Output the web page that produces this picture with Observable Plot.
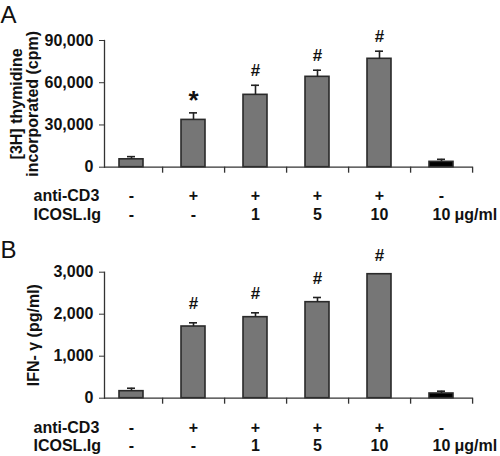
<!DOCTYPE html>
<html><head><meta charset="utf-8">
<script src="https://cdn.jsdelivr.net/npm/d3@7"></script>
<script src="https://cdn.jsdelivr.net/npm/@observablehq/plot@0.6"></script>
<style>
body{margin:0;background:#fff;}
#fig{width:500px;height:456px;}
#fig svg{display:block;}
</style></head><body><div id="fig"></div>
<script>
const categories = ["c1","c2","c3","c4","c5","c6"];
const antiCD3 = ["-","+","+","+","+","-"];
const icosl = ["-","-","1","5","10","10"];
const thymidine = [5600, 33600, 51400, 64200, 77000, 3800];
const thymidineErr = [1900, 5000, 6800, 4700, 5400, 1800];
const thymidineSig = ["", "*", "#", "#", "#", ""];
const thymidineTicks = [0, 30000, 60000, 90000];
const ifng = [167, 1707, 1929, 2286, 2952, 112];
const ifngErr = [70, 88, 104, 112, 0, 55];
const ifngSig = ["", "#", "#", "#", "#", ""];
const ifngTicks = [0, 1000, 2000, 3000];

const FONT = "'Liberation Sans', Arial, Helvetica, sans-serif";
const X_RANGE = [99.4, 472.6];
const STEP = (X_RANGE[1] - X_RANGE[0]) / categories.length;

function panel(o) {
  const data = categories.map((c, i) => ({
    c, v: o.values[i], e: o.errs[i], s: o.sigs[i], a: antiCD3[i], g: icosl[i],
    top: o.values[i] + o.errs[i], fill: i === categories.length - 1 ? "#000000" : "#767676"
  }));
  const withErr = data.filter(d => d.e > 0);
  const bottomTxt = {frameAnchor: "bottom", lineAnchor: "middle", fontSize: 16, fontWeight: "bold"};
  return Plot.plot({
    width: 500, height: 228,
    marginLeft: 104, marginRight: 500 - X_RANGE[1], marginTop: o.marginTop, marginBottom: o.marginBottom,
    style: {fontFamily: FONT, fontSize: "16px", color: "#111", background: "white", overflow: "visible"},
    x: {type: "band", domain: categories, range: X_RANGE, paddingInner: 0.608, paddingOuter: 0.304, axis: null},
    y: {domain: [0, o.max], axis: null},
    color: {type: "identity"},
    marks: [
      Plot.barY(data, {x: "c", y: "v", fill: "fill", stroke: "#2a2a2a", strokeWidth: 1.6}),
      Plot.ruleX(withErr, {x: "c", y1: "v", y2: "top", stroke: "#222", strokeWidth: 1.6}),
      Plot.tickY(withErr, {x: "c", y: "top", stroke: "#222", strokeWidth: 1.6, insetLeft: 8, insetRight: 8}),
      Plot.text(data.filter(d => d.s === "#"), {x: "c", y: "top", text: "s", dy: o.sigDy, fontSize: 17, fontWeight: "bold", lineAnchor: "middle"}),
      Plot.text(data.filter(d => d.s === "*"), {x: "c", y: "top", text: "s", dy: o.sigDy + 3, fontSize: 26, fontWeight: "bold", lineAnchor: "middle"}),
      Plot.ruleY([0], {stroke: "#333", strokeWidth: 1.3}),
      Plot.frame({anchor: "left", stroke: "#333", strokeWidth: 1.3}),
      Plot.ruleX(data, {x: "c", y1: 0, y2: 0, insetBottom: -6, dx: STEP / 2, stroke: "#333", strokeWidth: 1.3}),
      Plot.axisY({ticks: o.ticks, tickFormat: d3.format(","), tickSize: 5, tickPadding: 6, label: null, fontSize: 16, fontWeight: "bold", stroke: "#333"}),
      Plot.text([o.ylabel], {frameAnchor: "left", rotate: -90, textAnchor: "middle", dx: o.labelDx, lineHeight: 1.0, fontSize: 16, fontWeight: "bold", lineAnchor: "middle"}),
      Plot.text([o.letter], {frameAnchor: "top-left", dx: -104, dy: o.letterDy, textAnchor: "start", lineAnchor: "middle", fontSize: 24, fontWeight: "normal"}),
      Plot.text(data, {...bottomTxt, x: "c", text: "a", dy: o.row1}),
      Plot.text(data, {...bottomTxt, x: "c", text: "g", dy: o.row2}),
      Plot.text(["anti-CD3"], {...bottomTxt, frameAnchor: "bottom-left", textAnchor: "start", dx: -71, dy: o.row1}),
      Plot.text(["ICOSL.Ig"], {...bottomTxt, frameAnchor: "bottom-left", textAnchor: "start", dx: -71, dy: o.row2}),
      Plot.text(["\u03bcg/ml"], {...bottomTxt, frameAnchor: "bottom-right", textAnchor: "start", dx: -18.6, dy: o.row2})
    ]
  });
}

const fig = document.getElementById("fig");
fig.append(panel({
  values: thymidine, errs: thymidineErr, sigs: thymidineSig, ticks: thymidineTicks, max: 90000,
  letter: "A", ylabel: "[3H] thymidine\nincorporated (cpm)", labelDx: -79.5,
  marginTop: 40, marginBottom: 61.3, sigDy: -15, letterDy: -25, row1: 28.3, row2: 47.3
}));
fig.append(panel({
  values: ifng, errs: ifngErr, sigs: ifngSig, ticks: ifngTicks, max: 3000,
  letter: "B", ylabel: "IFN- \u03b3 (pg/ml)", labelDx: -71,
  marginTop: 43.7, marginBottom: 58.3, sigDy: -19, letterDy: -21.7, row1: 29.3, row2: 47.3
}));
</script>
</body></html>
